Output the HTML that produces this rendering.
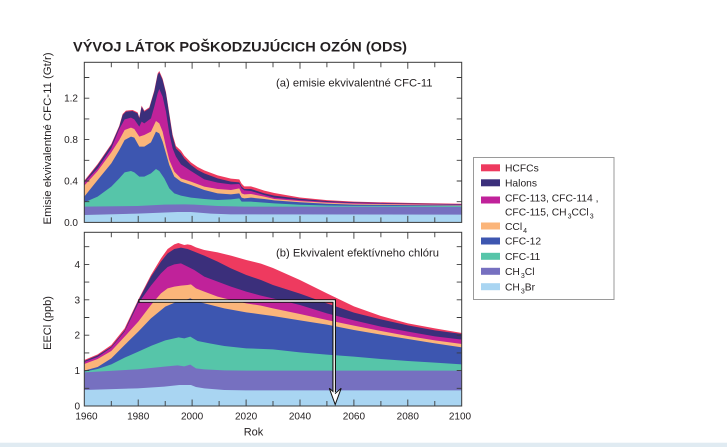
<!DOCTYPE html>
<html><head><meta charset="utf-8">
<style>
html,body{margin:0;padding:0;background:#fff;}
svg{display:block;}
text{font-family:"Liberation Sans",sans-serif;fill:#231f20;}
</style></head>
<body>
<svg width="727" height="447" viewBox="0 0 727 447" xmlns="http://www.w3.org/2000/svg">
<defs>
<clipPath id="c1"><rect x="84.3" y="62.3" width="377.4" height="160.1"/></clipPath>
<clipPath id="c2"><rect x="84.3" y="232.3" width="377.4" height="173.7"/></clipPath>
</defs>
<rect width="727" height="447" fill="#fff"/>
<rect x="0" y="442.7" width="727" height="4.3" fill="#e0ebf2"/>

<text x="73" y="51.7" font-size="14" font-weight="bold" textLength="334" lengthAdjust="spacingAndGlyphs">VÝVOJ LÁTOK POŠKODZUJÚCICH OZÓN (ODS)</text>

<!-- TOP PANEL -->
<g clip-path="url(#c1)">
<g transform="translate(84.3,65) scale(0.3333)">
<path fill="#ee3a5f" d="M0,472 L0,347 40,297 81,237 105,182 115,147 125,137 145,135 160,142 165,157 172,122 180,137 195,127 210,76 220,26 225,18 235,41 245,81 255,145 265,209 275,243 290,257 300,272 320,292 340,306 360,316 400,331 440,341 465,343 472,356 480,364 500,364 540,377 570,384 647,397.7 728,405.4 809,410.1 971,413.8 1133,416.3 1133,472 Z"/>
<path fill="#3b2f7b" d="M0,472 L0,350 40,300 81,240 105,185 115,150 125,140 145,138 160,145 165,160 172,125 180,140 195,130 210,80 220,30 225,22 235,45 245,85 255,150 265,215 275,250 290,265 300,280 320,300 340,315 360,325 400,340 440,350 465,352 472,365 480,372 500,372 540,385 570,392 647,401.4 728,407.9 809,411.7 971,415.4 1133,417.6 1133,472 Z"/>
<path fill="#c0229a" d="M0,472 L0,353 40,310 81,250 105,192 121,163 140,158 150,163 165,185 172,170 180,175 200,160 210,125 220,85 225,72 235,95 245,140 255,205 265,250 275,275 290,298 320,318 360,343 400,353 440,358 465,357 472,370 480,376 500,378 540,390 570,398 647,405.4 728,411 809,414.2 971,417 1133,418.8 1133,472 Z"/>
<path fill="#fbb57a" d="M0,472 L0,362 40,318 81,262 105,225 121,195 140,188 150,192 165,215 180,210 200,200 215,168 225,175 235,200 245,245 255,285 270,320 290,340 320,350 360,365 400,372 440,375 465,370 472,385 480,388 500,387 540,395 570,402 647,408.6 728,413.2 809,416.3 971,418.5 1133,420 1133,472 Z"/>
<path fill="#3d56b0" d="M0,472 L0,395 40,345 81,295 105,255 121,225 140,215 150,218 165,245 180,245 200,232 215,200 225,205 235,230 245,265 255,300 270,335 290,350 320,360 360,375 400,385 440,388 465,385 472,398 480,400 500,398 540,402 570,406 647,411.7 728,416.3 809,418.8 971,420.5 1133,421.6 1133,472 Z"/>
<path fill="#56c5a9" d="M0,472 L0,412 40,395 81,365 105,340 121,322 140,318 150,322 165,335 180,335 200,325 215,312 225,318 240,340 255,370 270,385 290,392 320,398 360,402 400,405 440,403 465,400 472,410 500,410 570,415 647,419.4 728,421.5 809,422.5 1133,423.1 1133,472 Z"/>
<path fill="#7670c0" d="M0,472 L0,425 160,423 240,419 300,418 330,419 400,423 480,425 1133,425.6 1133,472 Z"/>
<path fill="#a9d5f2" d="M0,472 L0,450 160,446 280,441 320,441 380,446 440,448 1133,449 1133,472 Z"/>
</g>
</g>

<!-- BOTTOM PANEL -->
<g clip-path="url(#c2)">
<g transform="translate(84.3,235) scale(0.3333)">
<path fill="#ee3a5f" d="M0,513 L0,375 40,358 81,330 121,280 162,194 200,120 230,70 250,42 270,28 282,24 300,30 310,28 320,30 335,37 360,45 400,52 440,62 486,75 530,86 566,99 647,135 728,175 809,214 890,243 971,265 1052,280 1133,294 1133,513 Z"/>
<path fill="#3b2f7b" d="M0,513 L0,378 40,361 81,335 121,286 162,197 200,125 230,80 250,55 270,42 290,38 310,42 330,50 360,62 400,80 440,100 486,120 530,135 566,150 647,176 728,205 809,233 890,253 971,271 1052,286 1133,297 1133,513 Z"/>
<path fill="#c0229a" d="M0,513 L0,381 40,366 81,338 121,290 162,205 200,152 230,115 250,96 270,88 290,85 310,95 330,105 360,125 400,140 440,155 486,170 530,182 566,190 647,210 728,235 809,256 890,275 971,290 1052,304 1133,314 1133,513 Z"/>
<path fill="#fbb57a" d="M0,513 L0,387 40,372 81,348 121,305 162,260 200,210 230,175 250,160 270,155 290,152 310,150 320,148 335,160 360,170 400,185 440,195 486,205 530,212 566,220 647,237 728,255 809,272 890,288 971,303 1052,316 1133,327 1133,513 Z"/>
<path fill="#3d56b0" d="M0,513 L0,407 40,396 81,370 121,330 162,290 200,250 243,215 283,198 300,196 318,190 340,200 380,210 420,220 486,232 530,238 566,243 647,256 728,269 809,285 890,299 971,312 1052,325 1133,337 1133,513 Z"/>
<path fill="#56c5a9" d="M0,513 L0,410 40,402 81,388 121,368 162,350 202,332 243,316 283,307 300,310 318,305 340,318 380,326 420,333 486,340 566,343 647,352 728,359 809,365 890,372 971,378 1052,383 1133,388 1133,513 Z"/>
<path fill="#7670c0" d="M0,513 L0,412 160,403 240,395 280,391 300,394 318,389 335,400 360,403 420,406 486,407 1133,407 1133,513 Z"/>
<path fill="#a9d5f2" d="M0,513 L0,465 160,460 240,455 285,450 320,450 335,456 360,460 420,465 486,466 1133,466 1133,513 Z"/>
</g>
</g>

<!-- frames -->
<rect x="84.3" y="62.3" width="377.4" height="160.1" fill="none" stroke="#3a3a3a" stroke-width="1"/>
<rect x="84.3" y="232.3" width="377.4" height="173.7" fill="none" stroke="#3a3a3a" stroke-width="1"/>

<!-- ticks -->
<path fill="none" stroke="#3a3a3a" stroke-width="0.9" d="
M84.3,201.7h5M84.3,181h5M84.3,160.3h5M84.3,139.6h5M84.3,118.9h5M84.3,98.2h5M84.3,77.5h5
M461.7,201.7h-5M461.7,181h-5M461.7,160.3h-5M461.7,139.6h-5M461.7,118.9h-5M461.7,98.2h-5M461.7,77.5h-5
M111.3,222.4v-5M138.2,222.4v-6.5M165.2,222.4v-5M192.1,222.4v-6.5M219.1,222.4v-5M246.1,222.4v-6.5M273,222.4v-5M300,222.4v-6.5M326.9,222.4v-5M353.9,222.4v-6.5M380.9,222.4v-5M407.8,222.4v-6.5M434.8,222.4v-5
M111.3,62.3v5M138.2,62.3v6.5M165.2,62.3v5M192.1,62.3v6.5M219.1,62.3v5M246.1,62.3v6.5M273,62.3v5M300,62.3v6.5M326.9,62.3v5M353.9,62.3v6.5M380.9,62.3v5M407.8,62.3v6.5M434.8,62.3v5
M84.3,388.3h5M84.3,370.6h5M84.3,352.9h5M84.3,335.2h5M84.3,317.5h5M84.3,299.8h5M84.3,282.1h5M84.3,264.4h5M84.3,246.7h5
M461.7,388.3h-5M461.7,370.6h-5M461.7,352.9h-5M461.7,335.2h-5M461.7,317.5h-5M461.7,299.8h-5M461.7,282.1h-5M461.7,264.4h-5M461.7,246.7h-5
M111.3,406v-5M138.2,406v-6.5M165.2,406v-5M192.1,406v-6.5M219.1,406v-5M246.1,406v-6.5M273,406v-5M300,406v-6.5M326.9,406v-5M353.9,406v-6.5M380.9,406v-5M407.8,406v-6.5M434.8,406v-5
M111.3,232.3v5M138.2,232.3v6.5M165.2,232.3v5M192.1,232.3v6.5M219.1,232.3v5M246.1,232.3v6.5M273,232.3v5M300,232.3v6.5M326.9,232.3v5M353.9,232.3v6.5M380.9,232.3v5M407.8,232.3v6.5M434.8,232.3v5"/>

<!-- arrow -->
<path d="M138.3,301 H334.2 V392" fill="none" stroke="#111" stroke-width="3.6" stroke-linejoin="miter"/>
<path d="M329.3,388.3 L335.2,393.5 L341.2,388.3 L335.2,404.5 Z" fill="#fff" stroke="#111" stroke-width="1" stroke-linejoin="miter"/>
<path d="M139.6,301 H334.2 V394" fill="none" stroke="#fff" stroke-width="1.4" stroke-linejoin="miter"/>

<!-- tick labels -->
<g font-size="10" text-anchor="end">
<text x="78" y="225.9">0.0</text>
<text x="78" y="184.5">0.4</text>
<text x="78" y="143.1">0.8</text>
<text x="78" y="101.7">1.2</text>
<text x="80" y="409.5">0</text>
<text x="80" y="374.1">1</text>
<text x="80" y="338.7">2</text>
<text x="80" y="303.3">3</text>
<text x="80" y="267.9">4</text>
</g>
<g font-size="10" text-anchor="middle">
<text x="86.5" y="419.5">1960</text>
<text x="138.2" y="419.5">1980</text>
<text x="192.1" y="419.5">2000</text>
<text x="246.1" y="419.5">2020</text>
<text x="300" y="419.5">2040</text>
<text x="353.9" y="419.5">2060</text>
<text x="407.8" y="419.5">2080</text>
<text x="460" y="419.5">2100</text>
</g>
<text x="253.5" y="435.7" font-size="11" text-anchor="middle">Rok</text>

<!-- axis titles -->
<text transform="translate(51,138.5) rotate(-90)" font-size="11" text-anchor="middle" textLength="172" lengthAdjust="spacingAndGlyphs">Emisie ekvivalentné CFC-11 (Gt/r)</text>
<text transform="translate(51,323) rotate(-90)" font-size="11" text-anchor="middle">EECl (ppb)</text>

<!-- panel labels -->
<text x="276" y="86.5" font-size="11" textLength="156.5" lengthAdjust="spacingAndGlyphs">(a) emisie ekvivalentné CFC-11</text>
<text x="276" y="256.5" font-size="11" textLength="163" lengthAdjust="spacingAndGlyphs">(b) Ekvivalent efektívneho chlóru</text>

<!-- legend -->
<rect x="473.5" y="157.5" width="140.5" height="142" fill="#fff" stroke="#9a9a9a" stroke-width="1"/>
<rect x="481" y="164.3" width="19" height="7" fill="#ee3a5f"/>
<rect x="481" y="179.3" width="19" height="7" fill="#3b2f7b"/>
<rect x="481" y="196.5" width="19" height="7" fill="#c0229a"/>
<rect x="481" y="222.5" width="19" height="7" fill="#fbb57a"/>
<rect x="481" y="237.5" width="19" height="7" fill="#3d56b0"/>
<rect x="481" y="252.8" width="19" height="7" fill="#56c5a9"/>
<rect x="481" y="267.8" width="19" height="7" fill="#7670c0"/>
<rect x="481" y="283.2" width="19" height="7" fill="#a9d5f2"/>
<g font-size="10.3">
<text x="505" y="171.7">HCFCs</text>
<text x="505" y="186.7">Halons</text>
<text x="505" y="201.5">CFC-113, CFC-114 ,</text>
<text x="505" y="215.5">CFC-115, CH<tspan font-size="7" dy="3" dx="1">3</tspan><tspan dy="-3">CCl</tspan><tspan font-size="7" dy="3" dx="1">3</tspan></text>
<text x="505" y="229.8">CCl<tspan font-size="7" dy="3" dx="1">4</tspan></text>
<text x="505" y="244.5">CFC-12</text>
<text x="505" y="260">CFC-11</text>
<text x="505" y="275">CH<tspan font-size="7" dy="3" dx="1">3</tspan><tspan dy="-3">Cl</tspan></text>
<text x="505" y="290.4">CH<tspan font-size="7" dy="3" dx="1">3</tspan><tspan dy="-3">Br</tspan></text>
</g>
</svg>
</body></html>
